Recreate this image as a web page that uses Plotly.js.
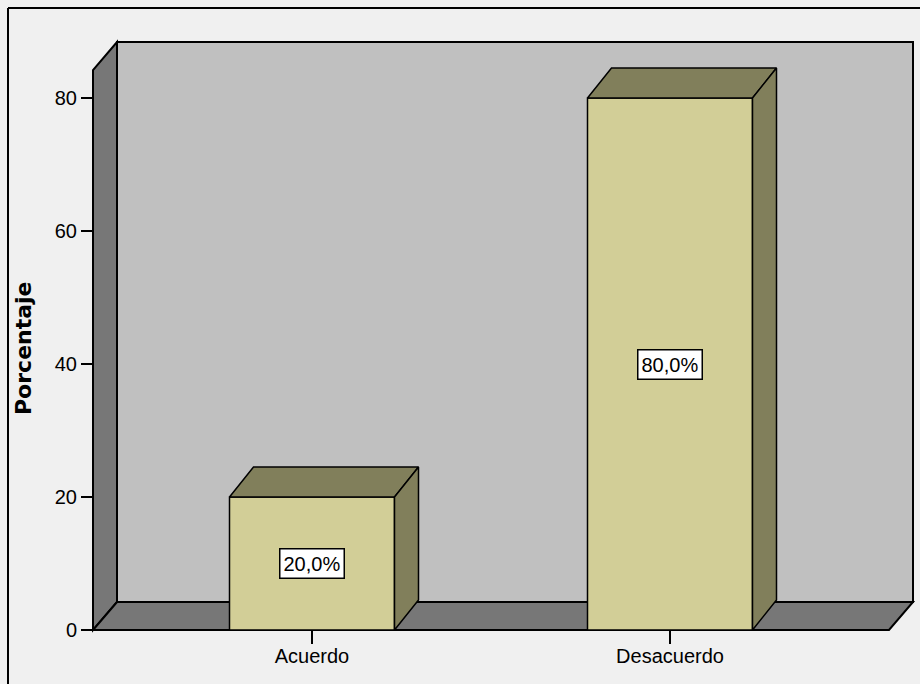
<!DOCTYPE html>
<html>
<head>
<meta charset="utf-8">
<script src="https://cdn.plot.ly/plotly-3.0.1.min.js"></script>
<style>html,body{margin:0;padding:0;background:#f0f0f0;}#chart{width:920px;height:684px;}</style>
</head>
<body>
<div id="chart"></div>
<script>
// ---- data ----
const categories = ['Acuerdo', 'Desacuerdo'];
const percentages = [20.0, 80.0];
const yTickVals = [0, 20, 40, 60, 80];
const yTickText = ['0', '20', '40', '60', '80'];
const yTitle = 'Porcentaje';

// ---- style / geometry constants ----
const FONT = '"Liberation Sans", Arial, sans-serif';
const TITLE_FONT = '"DejaVu Sans", Verdana, sans-serif';
const W = 920, H = 684;
const PL = 86, PR = 918, PT = 36, PB = 636;       // plot area in px
const pxPerX = 358, x0px = 312;                  // category spacing
const pxPerY = 6.65, y0px = 630;                 // value scale
const toX = px => (px - x0px) / pxPerX;
const toY = py => (y0px - py) / pxPerY;
const pX = px => (px - PL) / (PR - PL);
const pY = py => (PB - py) / (PB - PT);
const xRange = [toX(PL), toX(PR)];
const yRange = [toY(PB), toY(PT)];
const wallDx = 24 / pxPerX, wallDy = 28 / pxPerY;
const barDx = 24 / pxPerX, barDy = 30 / pxPerY;
const barW = 165 / pxPerX;
const frontColor = '#d2ce97', darkColor = '#817f5b';
const wallColor = '#777777', backColor = '#c0c0c0';

// wall extents in data units
const xa = toX(93), xb = xa + wallDx, xR = toX(913), xF = xR - wallDx;
const yTop = toY(42);

const shapes = [
  {type: 'rect', xref: 'x', yref: 'y', x0: xb, x1: xR, y0: wallDy, y1: yTop,
   fillcolor: backColor, line: {color: '#000', width: 2}, layer: 'below'},
  {type: 'path', xref: 'x', yref: 'y', layer: 'below',
   path: `M${xa},0 L${xa},${yTop - wallDy} L${xb},${yTop} L${xb},${wallDy} Z`,
   fillcolor: wallColor, line: {color: '#000', width: 2}},
  {type: 'path', xref: 'x', yref: 'y', layer: 'below',
   path: `M${xa},0 L${xF},0 L${xR},${wallDy} L${xb},${wallDy} Z`,
   fillcolor: wallColor, line: {color: '#000', width: 2}},
  // outer frame (top & left)
  {type: 'line', xref: 'paper', yref: 'paper', x0: pX(8), x1: 1.2,
   y0: pY(8), y1: pY(8), line: {color: '#000', width: 2}},
  {type: 'line', xref: 'paper', yref: 'paper', x0: pX(8), x1: pX(8),
   y0: pY(8), y1: -0.2, line: {color: '#000', width: 2}}
];

const traces = [];
// front faces
traces.push({
  type: 'bar', x: categories.map((c, i) => i), y: percentages, width: barW,
  marker: {color: frontColor, line: {color: '#000', width: 1.5}},
  hoverinfo: 'skip', showlegend: false
});
// 3D side and top faces computed from the values
categories.forEach((c, i) => {
  const v = percentages[i];
  const l = i - barW / 2, r = i + barW / 2;
  traces.push({
    type: 'scatter', mode: 'lines', fill: 'toself', fillcolor: darkColor,
    x: [l, l + barDx, r + barDx, r, l], y: [v, v + barDy, v + barDy, v, v],
    line: {color: '#000', width: 1.5}, hoverinfo: 'skip', showlegend: false
  });
  traces.push({
    type: 'scatter', mode: 'lines', fill: 'toself', fillcolor: darkColor,
    x: [r, r + barDx, r + barDx, r, r], y: [0, barDy, v + barDy, v, 0],
    line: {color: '#000', width: 1.5}, hoverinfo: 'skip', showlegend: false
  });
});

const annotations = categories.map((c, i) => ({
  x: i, y: percentages[i] / 2, xref: 'x', yref: 'y', showarrow: false,
  text: percentages[i].toFixed(1).replace('.', ',') + '%',
  font: {family: FONT, size: 20, color: '#000'},
  bgcolor: '#ffffff', bordercolor: '#000', borderwidth: 1.5, borderpad: 3
}));
// y-axis title
annotations.push({
  xref: 'paper', yref: 'paper', x: pX(23), y: pY(348), showarrow: false,
  textangle: -90, xanchor: 'center', yanchor: 'middle',
  text: '<b>' + yTitle + '</b>',
  font: {family: TITLE_FONT, size: 22, color: '#000'}
});

const layout = {
  width: W, height: H,
  margin: {l: PL, r: W - PR, t: PT, b: H - PB, pad: 0},
  paper_bgcolor: '#f0f0f0', plot_bgcolor: '#f0f0f0',
  showlegend: false,
  xaxis: {
    range: xRange, tickmode: 'array', tickvals: categories.map((c, i) => i), ticktext: categories,
    ticks: 'outside', ticklen: 13, tickwidth: 2, tickcolor: '#000',
    ticklabelstandoff: -5,
    showgrid: false, zeroline: false, showline: false,
    anchor: 'free', position: pY(y0px),
    tickfont: {family: FONT, size: 20, color: '#000'}
  },
  yaxis: {
    range: yRange, tickmode: 'array', tickvals: yTickVals, ticktext: yTickText,
    ticks: 'outside', ticklen: 12, tickwidth: 2, tickcolor: '#000',
    showgrid: false, zeroline: false, showline: false,
    anchor: 'free', position: pX(93),
    tickfont: {family: FONT, size: 20, color: '#000'}
  },
  shapes: shapes,
  annotations: annotations
};

Plotly.newPlot('chart', traces, layout, {staticPlot: true, displayModeBar: false});
</script>
</body>
</html>
